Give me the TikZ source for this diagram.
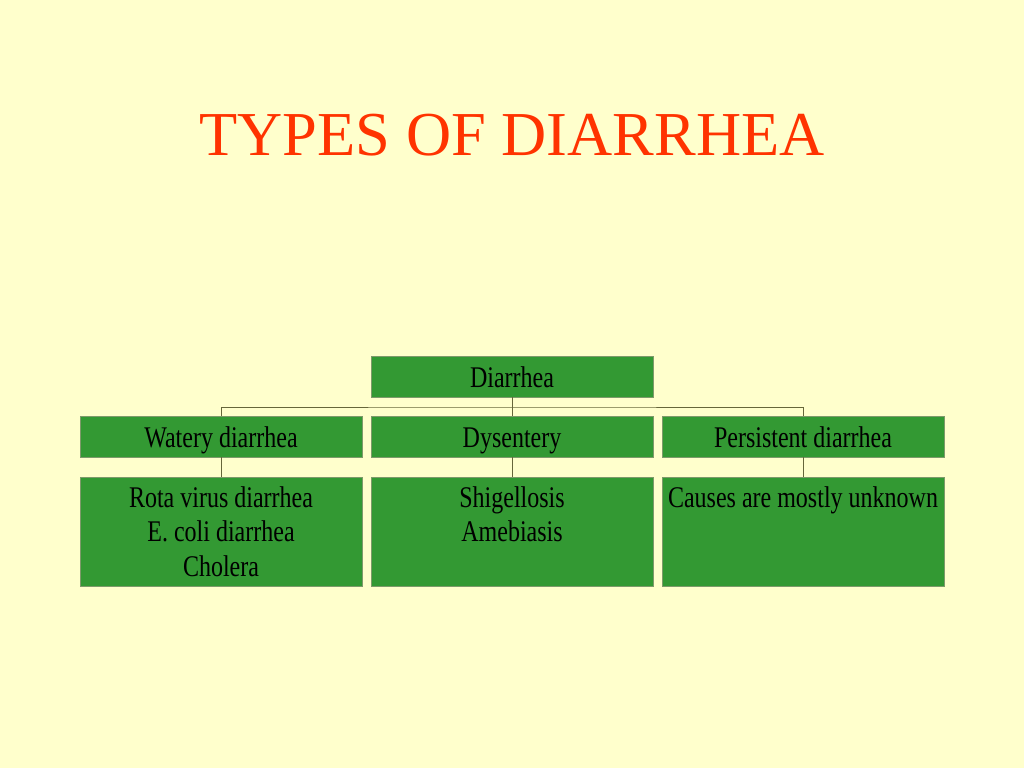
\documentclass[tikz,border=0pt]{standalone}
\usepackage{fontspec}
\setmainfont{Liberation Serif}
\definecolor{bg}{HTML}{FFFFCC}
\definecolor{boxgreen}{HTML}{339933}
\definecolor{boxedge}{HTML}{7E9A6A}
\definecolor{titlered}{HTML}{FF3300}
\definecolor{linkcol}{HTML}{66663A}
\newcommand{\cond}[1]{\scalebox{0.8}[1]{#1}}
\begin{document}
\begin{tikzpicture}[x=1pt,y=-1pt,
  gbox/.style={draw=boxedge,line width=0.6pt,fill=boxgreen,inner sep=0pt,outer sep=0pt},
  lbl/.style={font=\fontsize{30}{34.5}\selectfont,text=black,inner sep=0pt,align=center},
  link/.style={draw=linkcol,line width=0.8pt}]
\fill[bg] (0,0) rectangle (1024,768);
\useasboundingbox (0,0) rectangle (1024,768);
\node[text=titlered,font=\fontsize{62.5}{70}\selectfont,anchor=base,inner sep=0pt] (title) at (512,155) {TYPES OF DIARRHEA};
% boxes
\node[gbox,minimum width=282pt,minimum height=41pt,anchor=north west] (root) at (371,356) {};
\node[gbox,minimum width=282pt,minimum height=41pt,anchor=north west] (w) at (80,416) {};
\node[gbox,minimum width=282pt,minimum height=41pt,anchor=north west] (d) at (371,416) {};
\node[gbox,minimum width=282pt,minimum height=41pt,anchor=north west] (p) at (662,416) {};
\node[gbox,minimum width=282pt,minimum height=109pt,anchor=north west] (w2) at (80,477) {};
\node[gbox,minimum width=282pt,minimum height=109pt,anchor=north west] (d2) at (371,477) {};
\node[gbox,minimum width=282pt,minimum height=109pt,anchor=north west] (p2) at (662,477) {};
% connectors
\coordinate (bus) at (512,407);
\draw[link] (root.south) -- (d.north);
\draw[link] (w.north) |- (bus) -| (p.north);
\draw[link] (w.south) -- (w2.north);
\draw[link] (d.south) -- (d2.north);
\draw[link] (p.south) -- (p2.north);
% labels
\node[lbl,anchor=base] (rootl) at ([yshift=10pt]root.south) {\cond{Diarrhea}};
\node[lbl,anchor=base] (wl) at ([yshift=10pt]w.south) {\cond{Watery diarrhea}};
\node[lbl,anchor=base] (dl) at ([yshift=10pt]d.south) {\cond{Dysentery}};
\node[lbl,anchor=base] (pl) at ([yshift=10pt]p.south) {\cond{Persistent diarrhea}};
\node[lbl,anchor=north] (w2l) at ([yshift=-9pt]w2.north) {\cond{Rota virus diarrhea}\\\cond{E. coli diarrhea}\\\cond{Cholera}};
\node[lbl,anchor=north] (d2l) at ([yshift=-9pt]d2.north) {\cond{Shigellosis}\\\cond{Amebiasis}};
\node[lbl,anchor=north] (p2l) at ([yshift=-9pt]p2.north) {\cond{Causes are mostly unknown}};
\end{tikzpicture}
\end{document}
